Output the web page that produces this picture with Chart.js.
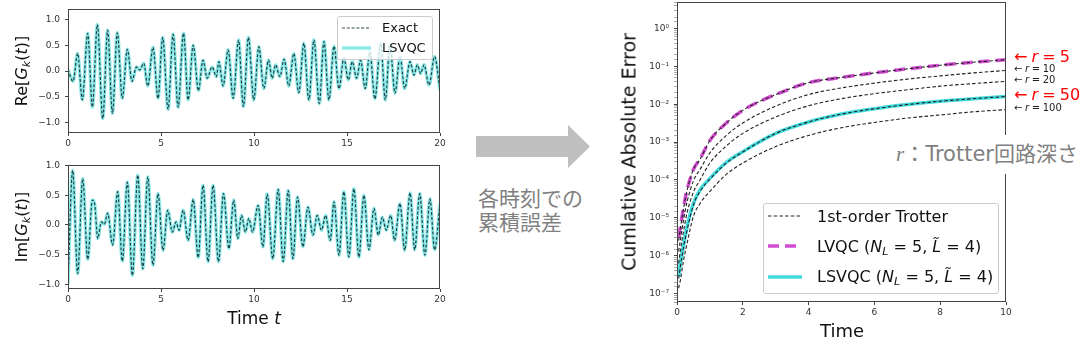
<!DOCTYPE html>
<html lang="ja">
<head>
<meta charset="utf-8">
<script src="https://cdn.jsdelivr.net/npm/chart.js@4.4.1/dist/chart.umd.min.js"></script>
<style>
  body { margin: 0; width: 1088px; height: 340px; position: relative; overflow: hidden; background: #fff; font-family: "DejaVu Sans", sans-serif; color: #111; }
  canvas, .abs { position: absolute; }
  .rot { position: absolute; transform: translate(-50%, -50%) rotate(-90deg); white-space: nowrap; line-height: 1; }
  .ctr { position: absolute; transform: translate(-50%, -50%); white-space: nowrap; line-height: 1; }
  sub { font-size: 0.7em; vertical-align: -0.25em; line-height: 0; }
  .legend { position: absolute; background: rgba(255,255,255,0.8); border: 1px solid #ccc; border-radius: 3px; box-sizing: border-box; }
  .legend .row { position: absolute; display: flex; align-items: center; white-space: nowrap; height: 20px; }
  .note { position: absolute; transform: translateY(-50%); white-space: nowrap; line-height: 1; }
  .note .s { display: inline-block; width: 0.26em; }
  .jp { font-family: "Noto Sans CJK JP", sans-serif; color: #808080; }
</style>
</head>
<body>
<canvas id="reChart" width="450" height="150" style="left:0;top:0"></canvas>
<canvas id="imChart" width="450" height="190" style="left:0;top:150px"></canvas>
<canvas id="errChart" width="488" height="340" style="left:600px;top:0"></canvas>

<div class="rot" style="left:22px;top:71px;font-size:16px">Re[<i>G<sub>k</sub></i>(<i>t</i>)]</div>
<div class="rot" style="left:22px;top:227px;font-size:16px">Im[<i>G<sub>k</sub></i>(<i>t</i>)]</div>
<div class="ctr" style="left:254px;top:318px;font-size:17px">Time <i>t</i></div>
<div class="rot" style="left:629px;top:152px;font-size:19px">Cumlative Absolute Error</div>
<div class="ctr" style="left:842px;top:331px;font-size:18px">Time</div>

<div class="legend" id="waveLegend" style="left:337px;top:16px;width:96px;height:44px;font-size:13px"></div>
<div class="legend" id="errLegend" style="left:763px;top:203px;width:236px;height:91px;font-size:16px"></div>

<svg class="abs" style="left:470px;top:120px" width="125" height="55">
  <polygon points="6,16 98,16 98,5 120,26.5 98,48 98,37 6,37" fill="#bfbfbf"/>
</svg>
<div class="abs jp" style="left:478px;top:185px;font-size:21px;line-height:24px">各時刻での<br>累積誤差</div>

<div class="note" style="left:1014px;top:57px;font-size:16px;color:#f00">←<span class="s"></span><i>r</i><span class="s"></span>=<span class="s"></span>5</div>
<div class="note" style="left:1014px;top:69px;font-size:10px;color:#222">←<span class="s"></span><i>r</i><span class="s"></span>=<span class="s"></span>10</div>
<div class="note" style="left:1014px;top:80px;font-size:10px;color:#222">←<span class="s"></span><i>r</i><span class="s"></span>=<span class="s"></span>20</div>
<div class="note" style="left:1014px;top:95px;font-size:16px;color:#f00">←<span class="s"></span><i>r</i><span class="s"></span>=<span class="s"></span>50</div>
<div class="note" style="left:1014px;top:108px;font-size:10px;color:#222">←<span class="s"></span><i>r</i><span class="s"></span>=<span class="s"></span>100</div>

<div class="abs" style="left:893px;top:135px;height:39px;line-height:39px;padding-left:3px;background:#fff;font-size:21px;color:#808080;white-space:nowrap;font-family:'DejaVu Sans','Noto Sans CJK JP',sans-serif"><i style="font-family:'Liberation Serif',serif">r</i>：Trotter回路深さ</div>

<script>
// Re[G_k(t)] : peaks and troughs
const reT = [0, 0.27, 0.52, 0.77, 1.06, 1.31, 1.58, 1.87, 2.13, 2.39, 2.65, 2.92, 3.19, 3.44, 3.68, 3.86, 4.07, 4.29, 4.57, 4.84,
  5.09, 5.38, 5.65, 5.92, 6.21, 6.46, 6.73, 7.01, 7.26, 7.48, 7.75, 7.98, 8.11, 8.34, 8.61, 8.88, 9.17, 9.43, 9.70, 9.99,
  10.26, 10.53, 10.78, 10.98, 11.16, 11.39, 11.62, 11.87, 12.14, 12.41, 12.68, 12.95, 13.22, 13.51, 13.76, 14.03, 14.30, 14.57, 14.83, 15.07,
  15.28, 15.52, 15.73, 15.98, 16.23, 16.50, 16.81, 17.06, 17.31, 17.58, 17.85, 18.10, 18.39, 18.60, 18.78, 18.96, 19.14, 19.41, 19.71, 20.0];
const reY = [0.03, -0.2, 0.34, -0.56, 0.73, -0.70, 0.90, -0.92, 0.79, -0.82, 0.74, -0.53, 0.42, -0.2, 0.08, 0.02, 0.15, -0.29, 0.46, -0.53,
  0.65, -0.74, 0.71, -0.70, 0.73, -0.56, 0.50, -0.38, 0.21, -0.14, 0.08, -0.11, 0.18, -0.29, 0.41, -0.53, 0.60, -0.69, 0.65, -0.56,
  0.47, -0.34, 0.21, -0.14, 0.12, -0.11, 0.23, -0.29, 0.34, -0.42, 0.54, -0.56, 0.60, -0.63, 0.57, -0.56, 0.48, -0.34, 0.25, -0.17,
  0.18, -0.14, 0.21, -0.34, 0.37, -0.54, 0.54, -0.56, 0.50, -0.43, 0.28, -0.34, 0.18, -0.08, 0.12, -0.05, 0.12, -0.27, 0.28, -0.37];

// Im[G_k(t)] : bottom panel
const imT = [0, 0.25, 0.52, 0.79, 1.06, 1.31, 1.43, 1.60, 1.79, 1.96, 2.13, 2.40, 2.67, 2.92, 3.19, 3.46, 3.75, 4.02, 4.29, 4.57,
  4.84, 5.11, 5.36, 5.61, 5.81, 5.97, 6.19, 6.46, 6.73, 7.00, 7.26, 7.53, 7.80, 8.09, 8.36, 8.65, 8.91, 9.13, 9.33, 9.54,
  9.72, 9.92, 10.22, 10.48, 10.71, 11.01, 11.30, 11.57, 11.84, 12.09, 12.34, 12.63, 12.90, 13.17, 13.40, 13.63, 13.85, 14.10, 14.30, 14.57,
  14.83, 15.10, 15.37, 15.64, 15.91, 16.18, 16.45, 16.68, 16.90, 17.11, 17.35, 17.56, 17.85, 18.10, 18.39, 18.64, 18.91, 19.19, 19.46, 19.71, 20.0];
const imY = [-0.99, 0.92, -0.82, 0.78, -0.58, 0.42, 0.36, -0.23, 0.05, 0.01, 0.20, -0.34, 0.56, -0.61, 0.72, -0.85, 0.84, -0.74, 0.81, -0.68,
  0.53, -0.43, 0.25, -0.12, 0.05, -0.09, 0.25, -0.26, 0.43, -0.55, 0.67, -0.62, 0.67, -0.62, 0.53, -0.40, 0.42, -0.23, 0.16, -0.12,
  0.11, -0.12, 0.33, -0.37, 0.52, -0.57, 0.60, -0.62, 0.58, -0.57, 0.47, -0.37, 0.30, -0.17, 0.16, -0.09, 0.16, -0.26, 0.39, -0.51,
  0.56, -0.54, 0.61, -0.54, 0.50, -0.42, 0.28, -0.17, 0.13, -0.09, 0.16, -0.26, 0.36, -0.43, 0.54, -0.42, 0.53, -0.51, 0.44, -0.42, 0.36];

// cumulative absolute error (right panel)
const errT = [0.05, 0.1, 0.2, 0.3, 0.5, 0.7, 1, 1.5, 2, 3, 4, 5, 6, 7, 8, 9, 10];
const trotterR5 = [2.5e-6, 5.0e-6, 1.8e-5, 5.0e-5, 1.9e-4, 3.5e-4, 1.1e-3, 3.2e-3, 6.9e-3, 1.8e-2, 3.7e-2, 5.1e-2, 6.7e-2, 8.6e-2, 0.107, 0.128, 0.15];
const trotterR10 = [1.3e-6, 2.5e-6, 8.9e-6, 2.5e-5, 9.5e-5, 1.9e-4, 5.2e-4, 1.5e-3, 3.2e-3, 8.9e-3, 1.8e-2, 2.7e-2, 3.6e-2, 4.6e-2, 5.6e-2, 6.7e-2, 7.8e-2];
const trotterR20 = [6.3e-7, 1.3e-6, 4.5e-6, 1.3e-5, 4.8e-5, 1.0e-4, 2.8e-4, 7.9e-4, 1.7e-3, 4.6e-3, 9.1e-3, 1.4e-2, 1.9e-2, 2.4e-2, 3.0e-2, 3.5e-2, 4.0e-2];
const trotterR50 = [2.5e-7, 5.0e-7, 1.7e-6, 4.5e-6, 2.2e-5, 5.0e-5, 1.05e-4, 2.8e-4, 5.5e-4, 1.7e-3, 3.4e-3, 5.5e-3, 7.6e-3, 9.8e-3, 1.2e-2, 1.4e-2, 1.6e-2];
const trotterR100 = [1.4e-7, 2.2e-7, 7.6e-7, 2.0e-6, 1.1e-5, 2.4e-5, 5.0e-5, 1.4e-4, 2.8e-4, 7.6e-4, 1.5e-3, 2.4e-3, 3.3e-3, 4.3e-3, 5.2e-3, 6.3e-3, 7.2e-3];
const lvqcErr = [3.0e-6, 5.5e-6, 1.9e-5, 5.2e-5, 1.9e-4, 3.6e-4, 1.1e-3, 3.2e-3, 6.9e-3, 1.8e-2, 3.7e-2, 5.1e-2, 6.7e-2, 8.6e-2, 0.107, 0.128, 0.15];
const lsvqcErr = [2.8e-7, 6.0e-7, 1.9e-6, 5.5e-6, 2.4e-5, 5.5e-5, 1.1e-4, 2.9e-4, 5.6e-4, 1.7e-3, 3.4e-3, 5.5e-3, 7.6e-3, 9.8e-3, 1.2e-2, 1.4e-2, 1.6e-2];

const waveLabels = ["Exact", "LSVQC"];
const errLabels = ["1st-order Trotter", "LVQC (<i>N<sub>L</sub></i> = 5, <i>L̃</i> = 4)", "LSVQC (<i>N<sub>L</sub></i> = 5, <i>L̃</i> = 4)"];

const tickFont = { family: "DejaVu Sans", size: 9 };
const pts = (xs, ys) => xs.map((x, i) => ({ x, y: ys[i] }));

// matplotlib-like closed frame around the plot area
const frame = {
	id: "frame",
	afterDraw(chart) {
		const { ctx, chartArea: a } = chart;
		ctx.save();
		ctx.strokeStyle = "#444";
		ctx.lineWidth = 1;
		ctx.strokeRect(a.left + 0.5, a.top + 0.5, a.width - 1, a.height - 1);
		ctx.restore();
	},
};

const axisX = (min, max, step, h) => ({
	type: "linear", min, max,
	ticks: { stepSize: step, font: tickFont, color: "#333", padding: 2, maxRotation: 0 },
	grid: { drawOnChartArea: false, tickLength: 3, tickColor: "#444" },
	border: { display: false },
	afterFit(s) { s.height = h; s.paddingLeft = 0; s.paddingRight = 0; },
});

const axisY = (min, max, w) => ({
	type: "linear", min, max,
	ticks: {
		stepSize: 0.5, includeBounds: false, font: tickFont, color: "#333", padding: 5,
		callback: (v) => (v < 0 ? "\u2212" : "") + Math.abs(v).toFixed(1),
	},
	grid: { drawOnChartArea: false, tickLength: 3, tickColor: "#444" },
	border: { display: false },
	afterFit(s) { s.width = w; s.paddingTop = 0; s.paddingBottom = 0; },
});

const waveSets = (xs, ys) => [
	{ label: waveLabels[0], data: pts(xs, ys), borderColor: "rgba(15,40,40,0.85)", borderWidth: 1.2, borderDash: [3, 1.8] },
	{ label: waveLabels[1], data: pts(xs, ys), borderColor: "rgba(0,206,209,0.45)", borderWidth: 3.4 },
].map((d) => ({ ...d, pointRadius: 0, cubicInterpolationMode: "monotone", fill: false }));

const baseOptions = (x, y, padding) => ({
	responsive: false,
	animation: false,
	layout: { padding },
	plugins: { legend: { display: false }, tooltip: { enabled: false } },
	scales: { x, y },
});

const reChart = new Chart("reChart", {
	type: "line",
	data: { datasets: waveSets(reT, reY) },
	options: baseOptions(axisX(0, 20, 5, 17), axisY(-1.2, 1.2, 68), { top: 9, right: 10, left: 0, bottom: 0 }),
	plugins: [frame],
});

new Chart("imChart", {
	type: "line",
	data: { datasets: waveSets(imT, imY) },
	options: baseOptions(axisX(0, 20, 5, 51), axisY(-1.08, 1.01, 68), { top: 15, right: 10, left: 0, bottom: 0 }),
	plugins: [frame],
});

// log axis labels as 10^n
const sup = { "-": "⁻", 0: "⁰", 1: "¹", 2: "²", 3: "³", 4: "⁴", 5: "⁵", 6: "⁶", 7: "⁷", 8: "⁸", 9: "⁹" };
const decadeOf = (v) => {
	const e = Math.round(Math.log10(v));
	return Math.abs(v / Math.pow(10, e) - 1) < 1e-6 ? e : null;
};

const trotter = (data) => ({ label: errLabels[0], data: pts(errT, data), borderColor: "#222", borderWidth: 1.1, borderDash: [3.5, 2.2] });
const errSets = [
	trotter(trotterR5), trotter(trotterR10), trotter(trotterR20), trotter(trotterR50), trotter(trotterR100),
	{ label: "LVQC", data: pts(errT, lvqcErr), borderColor: "rgba(191,0,191,0.7)", borderWidth: 3.5, borderDash: [11, 6] },
	{ label: "LSVQC", data: pts(errT, lsvqcErr), borderColor: "rgba(0,206,209,0.75)", borderWidth: 3.5 },
].map((d) => ({ ...d, pointRadius: 0, cubicInterpolationMode: "monotone", fill: false }));

const errY = {
	type: "logarithmic", min: 6e-8, max: 5,
	ticks: {
		font: tickFont, color: "#333", padding: 5, autoSkip: false,
		callback: (v) => {
			const e = decadeOf(v);
			return e === null ? "" : "10" + String(e).split("").map((c) => sup[c]).join("");
		},
	},
	grid: {
		drawOnChartArea: false, tickLength: 3,
		tickColor: (c) => (c.tick && decadeOf(c.tick.value) !== null ? "#444" : "#888"),
		tickWidth: (c) => (c.tick && decadeOf(c.tick.value) !== null ? 1 : 0.7),
	},
	border: { display: false },
	afterFit(s) { s.width = 77; s.paddingTop = 0; s.paddingBottom = 0; },
};

const errChart = new Chart("errChart", {
	type: "line",
	data: { datasets: errSets },
	options: baseOptions(axisX(0, 10, 2, 38), errY, { top: 2, right: 82, left: 0, bottom: 0 }),
	plugins: [frame],
});

// legends with math labels, built from the datasets' own styles
const htmlLegend = (boxId, chart, items, o) => {
	const box = document.getElementById(boxId);
	items.forEach((it, i) => {
		const ds = chart.data.datasets[it.ds];
		const row = document.createElement("div");
		row.className = "row";
		row.style.left = o.x0 + "px";
		row.style.top = o.c0 + i * o.pitch - 10 + "px";
		const dash = ds.borderDash ? ds.borderDash.join(" ") : "";
		row.innerHTML =
			`<svg width="${o.w}" height="10"><line x1="0" y1="5" x2="${o.w}" y2="5" stroke="${ds.borderColor}" ` +
			`stroke-width="${ds.borderWidth}" stroke-dasharray="${dash}"/></svg>` +
			`<span style="margin-left:${o.gap}px">${it.html}</span>`;
		box.appendChild(row);
	});
};

htmlLegend("waveLegend", reChart, [{ ds: 0, html: waveLabels[0] }, { ds: 1, html: waveLabels[1] }], { x0: 4, c0: 10.5, pitch: 20.4, w: 29, gap: 11 });
htmlLegend("errLegend", errChart, [{ ds: 0, html: errLabels[0] }, { ds: 5, html: errLabels[1] }, { ds: 6, html: errLabels[2] }], { x0: 4, c0: 12, pitch: 30.4, w: 34, gap: 15 });
</script>
</body>
</html>
